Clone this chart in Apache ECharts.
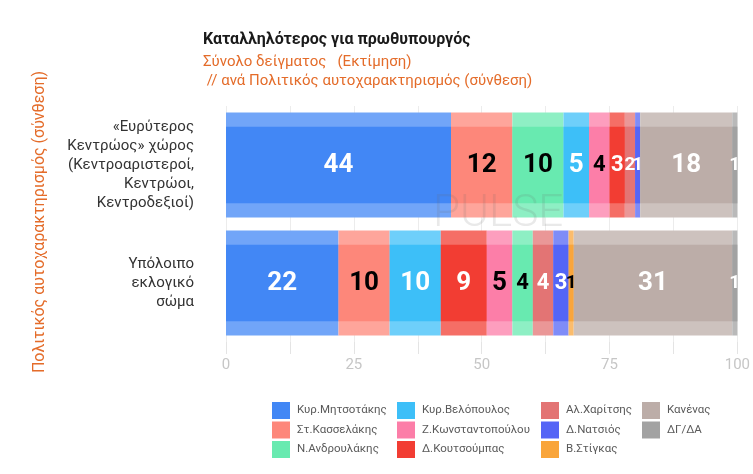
<!DOCTYPE html>
<html><head><meta charset="utf-8">
<script src="https://cdn.jsdelivr.net/npm/echarts@6/dist/echarts.min.js"></script>
<style>html,body{margin:0;padding:0;background:#fff}#c{width:753px;height:474px}</style>
</head><body><div id="c"></div>
<script>
const categories = ['«Ευρύτερος\nΚεντρώος» χώρος\n(Κεντροαριστεροί,\nΚεντρώοι,\nΚεντροδεξιοί)', 'Υπόλοιπο\nεκλογικό\nσώμα'];
const parties = ['Κυρ.Μητσοτάκης','Στ.Κασσελάκης','Ν.Ανδρουλάκης','Κυρ.Βελόπουλος','Ζ.Κωνσταντοπούλου','Δ.Κουτσούμπας','Αλ.Χαρίτσης','Δ.Νατσιός','Β.Στίγκας','Κανένας','ΔΓ/ΔΑ'];
const valuesCentre = [44, 12, 10, 5, 4, 3, 2, 1, 0, 18, 1];
const valuesRest   = [22, 10, 4, 10, 5, 9, 4, 3, 1, 31, 1];
const xTicks = [0, 25, 50, 75, 100];

const colors = ['#4287f5','#fd877a','#68eab0','#3dbff8','#fc7ea8','#f23d33','#e37474','#5465f6','#f9a53b','#bcada8','#a2a2a2'];
const labelColors = ['#fff','#000','#000','#fff','#000','#fff','#fff','#fff','#000','#fff','#fff'];

function lighten(hex, a) {
  const n = parseInt(hex.slice(1), 16);
  const r = (n >> 16) & 255, g = (n >> 8) & 255, b = n & 255;
  const m = c => Math.round(c * a + 255 * (1 - a));
  return 'rgb(' + m(r) + ',' + m(g) + ',' + m(b) + ')';
}

// segments in each row are ordered by value (descending), "Κανένας" and "ΔΓ/ΔΑ" kept last
const rows = [valuesCentre, valuesRest];
const fixedTail = [9, 10];
const orders = rows.map(vals => {
  const head = parties.map((_, i) => i).filter(i => fixedTail.indexOf(i) < 0);
  head.sort((a, b) => (vals[b] - vals[a]) || (a - b));
  return head.concat(fixedTail);
});

const series = [];
// legend-only series (one per party)
parties.forEach((p, i) => {
  series.push({ name: p, type: 'bar', stack: 'inner', yAxisIndex: 1, barWidth: '65%',
    itemStyle: { color: colors[i] }, data: [] });
});
const nSlots = parties.length;
for (let k = 0; k < nSlots; k++) {
  series.push({
    name: 'slot' + k, type: 'bar', stack: 'inner', yAxisIndex: 1, barWidth: '65%', z: 3,
    label: {
      show: true, position: 'inside', fontWeight: 'bold', fontFamily: 'Roboto',
      formatter: q => q.value > 0 ? String(q.value) : ''
    },
    data: rows.map((vals, r) => {
      const pi = orders[r][k], v = vals[pi];
      return { value: v, itemStyle: { color: colors[pi] },
        label: { color: labelColors[pi], fontSize: v >= 5 ? 26 : (v >= 3 ? 22 : 19) } };
    })
  });
  series.push({
    name: 'band' + k, type: 'bar', stack: 'outer', yAxisIndex: 0, barWidth: '89%', z: 2,
    label: { show: false },
    data: rows.map((vals, r) => {
      const pi = orders[r][k];
      return { value: vals[pi], itemStyle: { color: lighten(colors[pi], 0.75) } };
    })
  });
}

function legendCol(names, left) {
  return {
    data: names, orient: 'vertical', left: left, top: 397, itemWidth: 18, itemHeight: 17, itemGap: 2.5,
    icon: 'rect', textStyle: { color: '#5a5a5a', fontSize: 11.5, fontFamily: 'Roboto', padding: [0,0,0,2] },
    selectedMode: false
  };
}

const chart = echarts.init(document.getElementById('c'), null, { renderer: 'canvas' });
chart.setOption({
  animation: false,
  backgroundColor: '#fff',
  textStyle: { fontFamily: 'Roboto' },
  title: [
    { text: 'Καταλληλότερος για πρωθυπουργός', left: 198, top: 27,
      textStyle: { fontSize: 16, fontWeight: 'bold', color: '#1a1a1a', fontFamily: 'Roboto' } },
    { text: 'Σύνολο δείγματος   (Εκτίμηση)\n // ανά Πολιτικός αυτοχαρακτηρισμός (σύνθεση)', left: 198, top: 48,
      textStyle: { fontSize: 15, fontWeight: 'normal', color: '#e46c2a', lineHeight: 19, fontFamily: 'Roboto' } }
  ],
  legend: [
    legendCol(parties.slice(0,3), 267),
    legendCol(parties.slice(3,6), 392),
    legendCol(parties.slice(6,9), 536),
    legendCol(parties.slice(9,11), 637)
  ],
  grid: { left: 226, right: 13.5, top: 106, bottom: 132, containLabel: false },
  xAxis: {
    type: 'value', min: 0, max: 100, interval: 12.5,
    axisLine: { show: false },
    axisTick: { show: true, length: 12, lineStyle: { color: '#e4e4e4' } },
    splitLine: { show: true, lineStyle: { color: '#ececec', width: 1 } },
    axisLabel: { color: '#c6c6c6', fontSize: 15, margin: 16, fontFamily: 'Roboto',
      formatter: v => xTicks.indexOf(v) >= 0 ? String(v) : '' }
  },
  yAxis: [
    { type: 'category', data: categories, inverse: true,
      axisLine: { show: false }, axisTick: { show: false },
      axisLabel: { color: '#333', fontSize: 15, lineHeight: 19, margin: 32, align: 'right', fontFamily: 'Roboto' } },
    { type: 'category', data: categories, inverse: true, show: false }
  ],
  graphic: [
    { type: 'text', left: 433, top: 193, z: 100, silent: true,
      style: { text: 'PULSE', fill: 'rgba(110,110,110,0.15)', font: '300 44px Roboto' } },
    { type: 'text', x: 40, y: 222, rotation: Math.PI / 2, z: 100,
      style: { text: 'Πολιτικός αυτοχαρακτηρισμός (σύνθεση)', fill: '#e46c2a', font: '16px Roboto',
        align: 'center', verticalAlign: 'middle' } }
  ],
  series: series
});
</script>
</body></html>
